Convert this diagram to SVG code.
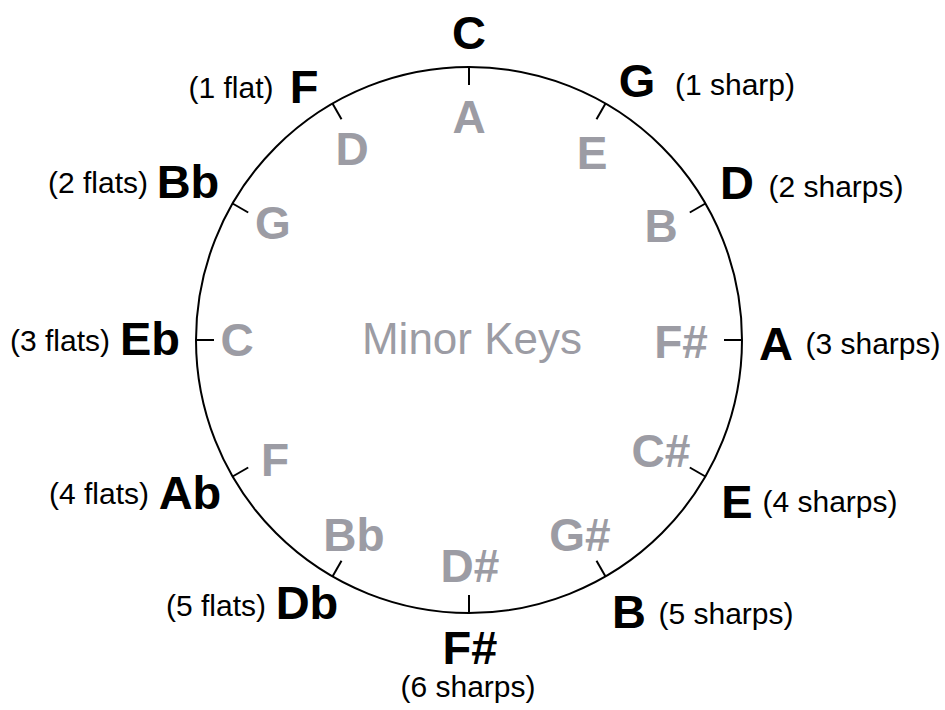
<svg xmlns="http://www.w3.org/2000/svg" width="945" height="710" viewBox="0 0 945 710">
<style>
.maj{font-family:"Liberation Sans",Arial,sans-serif;font-weight:bold;font-size:47px;fill:#000;text-anchor:middle}
.min{font-family:"Liberation Sans",Arial,sans-serif;font-weight:bold;font-size:46px;fill:#9c9ca4;text-anchor:middle}
.ann{font-family:"Liberation Sans",Arial,sans-serif;font-size:30px;fill:#000;text-anchor:middle}
.title{font-family:"Liberation Sans",Arial,sans-serif;font-size:44px;fill:#9c9ca4;text-anchor:middle}
.ring{fill:none;stroke:#000;stroke-width:2}
.tick{stroke:#000;stroke-width:2}
</style>
<rect width="945" height="710" fill="#fff"/>
<g id="circle">
<circle class="ring" cx="469" cy="340" r="273"/>
</g>
<g id="ticks">
<line class="tick" x1="469" y1="67" x2="469" y2="85"/>
<line class="tick" x1="605.5" y1="103.6" x2="596.5" y2="119.2"/>
<line class="tick" x1="705.4" y1="203.5" x2="689.8" y2="212.5"/>
<line class="tick" x1="742" y1="340" x2="724" y2="340"/>
<line class="tick" x1="705.4" y1="476.5" x2="689.8" y2="467.5"/>
<line class="tick" x1="605.5" y1="576.4" x2="596.5" y2="560.8"/>
<line class="tick" x1="469" y1="613" x2="469" y2="595"/>
<line class="tick" x1="332.5" y1="576.4" x2="341.5" y2="560.8"/>
<line class="tick" x1="232.6" y1="476.5" x2="248.2" y2="467.5"/>
<line class="tick" x1="196" y1="340" x2="214" y2="340"/>
<line class="tick" x1="232.6" y1="203.5" x2="248.2" y2="212.5"/>
<line class="tick" x1="332.5" y1="103.6" x2="341.5" y2="119.2"/>
</g>
<g id="major-C"><text class="maj" x="469" y="49">C</text></g>
<g id="major-G"><text class="maj" x="637" y="97">G</text><text class="ann" x="735" y="95">(1 sharp)</text></g>
<g id="major-D"><text class="maj" x="737" y="199">D</text><text class="ann" x="836" y="197">(2 sharps)</text></g>
<g id="major-A"><text class="maj" x="776" y="360">A</text><text class="ann" x="873" y="354">(3 sharps)</text></g>
<g id="major-E"><text class="maj" x="737" y="518">E</text><text class="ann" x="830" y="512">(4 sharps)</text></g>
<g id="major-B"><text class="maj" x="629" y="628">B</text><text class="ann" x="726" y="624">(5 sharps)</text></g>
<g id="major-Fs"><text class="maj" x="470" y="664">F#</text><text class="ann" x="468" y="697">(6 sharps)</text></g>
<g id="major-Db"><text class="maj" x="307" y="619">Db</text><text class="ann" x="216" y="616">(5 flats)</text></g>
<g id="major-Ab"><text class="maj" x="190" y="509">Ab</text><text class="ann" x="99" y="504">(4 flats)</text></g>
<g id="major-Eb"><text class="maj" x="150" y="355">Eb</text><text class="ann" x="60" y="351">(3 flats)</text></g>
<g id="major-Bb"><text class="maj" x="188" y="198">Bb</text><text class="ann" x="98" y="193">(2 flats)</text></g>
<g id="major-F"><text class="maj" x="304" y="103">F</text><text class="ann" x="231" y="98">(1 flat)</text></g>
<g id="minor-A"><text class="min" x="469" y="133">A</text></g>
<g id="minor-E"><text class="min" x="592" y="169">E</text></g>
<g id="minor-B"><text class="min" x="661" y="242">B</text></g>
<g id="minor-Fs"><text class="min" x="681" y="358">F#</text></g>
<g id="minor-Cs"><text class="min" x="661" y="467">C#</text></g>
<g id="minor-Gs"><text class="min" x="580" y="551">G#</text></g>
<g id="minor-Ds"><text class="min" x="470" y="582">D#</text></g>
<g id="minor-Bb"><text class="min" x="354" y="551">Bb</text></g>
<g id="minor-F"><text class="min" x="275" y="476">F</text></g>
<g id="minor-C"><text class="min" x="237" y="356">C</text></g>
<g id="minor-G"><text class="min" x="273" y="239">G</text></g>
<g id="minor-D"><text class="min" x="352" y="165">D</text></g>
<g id="label"><text class="title" x="472" y="354">Minor Keys</text></g>
</svg>
